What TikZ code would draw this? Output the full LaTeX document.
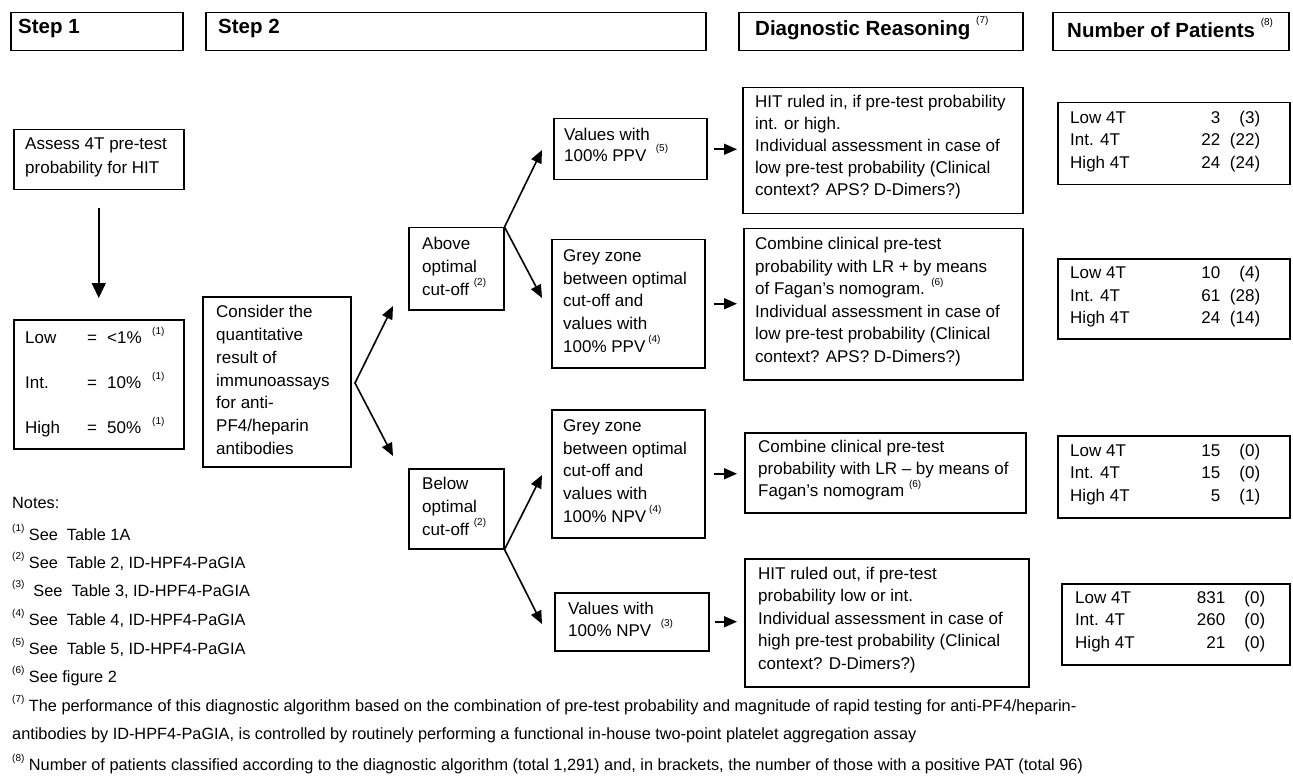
\documentclass[tikz,border=0pt]{standalone}
\usepackage{fontspec}
\setmainfont{Liberation Sans}
\usetikzlibrary{arrows.meta}
\newcommand{\fnm}[1]{\raisebox{0.55em}{\fontsize{10}{10}\selectfont(#1)}}
\newcommand{\prow}[3]{\makebox[150pt][l]{#1}\llap{#2}\makebox[40pt][r]{#3}}
\begin{document}
\begin{tikzpicture}[x=1pt,y=-1pt,
  box/.style={draw, line width=1.5pt, inner sep=0pt, anchor=north west},
  txt/.style={anchor=west, inner sep=0pt, align=left, font=\fontsize{17}{22.5}\selectfont},
  head/.style={anchor=west, inner sep=0pt, font=\bfseries\fontsize{20.5}{24}\selectfont},
  note/.style={anchor=west, inner sep=0pt, font=\fontsize{16.3}{20}\selectfont},
  arr/.style={line width=1.6pt, -{Triangle[length=13pt,width=11pt]}},
  fork/.style={line width=1.6pt, {Triangle[length=13pt,width=11pt]}-{Triangle[length=13pt,width=11pt]}}]
\useasboundingbox (0,0) rectangle (1293,778);

% headers
\node[box, minimum width=172pt, minimum height=38pt] (h1) at (10,12) {};
\node[box, minimum width=500pt, minimum height=38pt] (h2) at (205,12) {};
\node[box, minimum width=284pt, minimum height=38pt] (h3) at (738,12) {};
\node[box, minimum width=236pt, minimum height=38pt] (h4) at (1052,12) {};
\node[head] (h1t) at (18,28) {Step 1};
\node[head] (h2t) at (218,28) {Step 2};
\node[head] (h3t) at (755,28) {Diagnostic Reasoning \mdseries\fnm{7}};
\node[head] (h4t) at (1067,28) {Number of Patients \mdseries\fnm{8}};

% step 1
\node[box, minimum width=170pt, minimum height=60pt] (assess) at (13,129) {};
\node[txt, font=\fontsize{17}{24}\selectfont] (assesst) at (25,157) {Assess 4T pre-test\\probability for HIT};
\node[box, minimum width=170pt, minimum height=129pt] (low) at (13,319) {};
\node[txt, font=\fontsize{17}{45}\selectfont] (lowt) at (25,382)
  {\makebox[62pt][l]{Low}\makebox[20pt][l]{=}\makebox[45pt][l]{<1\%}\fnm{1}\\
   \makebox[62pt][l]{Int.}\makebox[20pt][l]{=}\makebox[45pt][l]{10\%}\fnm{1}\\
   \makebox[62pt][l]{High}\makebox[20pt][l]{=}\makebox[45pt][l]{50\%}\fnm{1}};
\draw[arr, -{Triangle[length=15pt,width=14pt]}] ([yshift=-18pt]assess.south) -- ([yshift=21pt]low.north);

% step 2
\node[box, minimum width=148pt, minimum height=170pt] (consider) at (202,296) {};
\node[txt, font=\fontsize{17}{22.7}\selectfont] (considert) at (216,380)
  {Consider the\\quantitative\\result of\\immunoassays\\for anti-\\PF4/heparin\\antibodies};
\node[box, minimum width=95pt, minimum height=82pt] (above) at (408,227) {};
\node[txt, font=\fontsize{17}{23}\selectfont] (abovet) at (422,266) {Above\\optimal\\cut-off \fnm{2}};
\node[box, minimum width=95pt, minimum height=80pt] (below) at (408,468) {};
\node[txt, font=\fontsize{17}{23}\selectfont] (belowt) at (422,506) {Below\\optimal\\cut-off \fnm{2}};

\node[box, minimum width=153pt, minimum height=61pt] (vppv) at (553,118) {};
\node[txt, font=\fontsize{17}{20.5}\selectfont] (vppvt) at (564,145) {Values with\\100\% PPV \ \fnm{5}};
\node[box, minimum width=153pt, minimum height=128pt] (gppv) at (551,239) {};
\node[txt, font=\fontsize{17}{22.7}\selectfont] (gppvt) at (563,301) {Grey zone\\between optimal\\cut-off and\\values with\\100\% PPV\,\fnm{4}};
\node[box, minimum width=153pt, minimum height=128pt] (gnpv) at (551,409) {};
\node[txt, font=\fontsize{17}{22.7}\selectfont] (gnpvt) at (563,471) {Grey zone\\between optimal\\cut-off and\\values with\\100\% NPV\,\fnm{4}};
\node[box, minimum width=154pt, minimum height=58pt] (vnpv) at (554,592) {};
\node[txt, font=\fontsize{17}{22}\selectfont] (vnpvt) at (568,619) {Values with\\100\% NPV \ \fnm{3}};

\coordinate (fc) at (355,383);
\coordinate (tA) at (393,306);
\coordinate (tB) at (393,456);
\draw[fork] (tA) -- (fc) -- (tB);
\coordinate (tC) at (542,150);
\coordinate (tD) at (542,298);
\draw[fork] (tC) -- (above.north east) -- (tD);
\coordinate (tE) at (542,475);
\coordinate (tF) at (542,624);
\draw[fork] (tE) -- (below.south east) -- (tF);

% diagnostic reasoning
\node[box, minimum width=280pt, minimum height=126pt] (hitin) at (742,87) {};
\node[txt, font=\fontsize{17}{22}\selectfont] (hitint) at (755,147)
  {HIT ruled in, if pre-test probability\\int. or high.\\Individual assessment in case of\\low pre-test probability (Clinical\\context? APS? D-Dimers?)};
\node[box, minimum width=279pt, minimum height=151pt] (comb1) at (743,228) {};
\node[txt, font=\fontsize{17}{22.6}\selectfont] (comb1t) at (755,301.5)
  {Combine clinical pre-test\\probability with LR + by means\\of Fagan’s nomogram. \fnm{6}\\Individual assessment in case of\\low pre-test probability (Clinical\\context? APS? D-Dimers?)};
\node[box, minimum width=281pt, minimum height=80pt] (comb2) at (744,432) {};
\node[txt, font=\fontsize{17}{22}\selectfont] (comb2t) at (758,470)
  {Combine clinical pre-test\\probability with LR – by means of\\Fagan’s nomogram \fnm{6}};
\node[box, minimum width=284pt, minimum height=128pt] (hitout) at (744,558) {};
\node[txt, font=\fontsize{17}{22.5}\selectfont] (hitoutt) at (758,620)
  {HIT ruled out, if pre-test\\probability low or int.\\Individual assessment in case of\\high pre-test probability (Clinical\\context? D-Dimers?)};

\draw[arr] ([xshift=6pt]vppv.east) -- ([xshift=-5pt]vppv.east -| hitin.west);
\draw[arr] ([xshift=8pt]gppv.east) -- ([xshift=-6pt]gppv.east -| comb1.west);
\draw[arr] ([xshift=8pt]gnpv.east) -- ([xshift=-7pt]gnpv.east -| comb2.west);
\draw[arr] ([xshift=5pt]vnpv.east) -- ([xshift=-7pt]vnpv.east -| hitout.west);

% number of patients
\node[box, minimum width=232pt, minimum height=82pt] (p1) at (1057,102) {};
\node[txt] (p1t) at (1070,141.5) {\prow{Low 4T}{3}{(3)}\\\prow{Int. 4T}{22}{(22)}\\\prow{High 4T}{24}{(24)}};
\node[box, minimum width=232pt, minimum height=80pt] (p2) at (1057,258) {};
\node[txt] (p2t) at (1070,297) {\prow{Low 4T}{10}{(4)}\\\prow{Int. 4T}{61}{(28)}\\\prow{High 4T}{24}{(14)}};
\node[box, minimum width=232pt, minimum height=82pt] (p3) at (1057,435) {};
\node[txt] (p3t) at (1070,474.5) {\prow{Low 4T}{15}{(0)}\\\prow{Int. 4T}{15}{(0)}\\\prow{High 4T}{5}{(1)}};
\node[box, minimum width=228pt, minimum height=81pt] (p4) at (1061,583) {};
\node[txt] (p4t) at (1075,621.5) {\prow{Low 4T}{831}{(0)}\\\prow{Int. 4T}{260}{(0)}\\\prow{High 4T}{21}{(0)}};

% notes
\node[note] (n0) at (12,503) {Notes:};
\node[note] (n1) at (12,532) {\fnm{1} See\ \ Table 1A};
\node[note] (n2) at (12,561) {\fnm{2} See\ \ Table 2, ID-HPF4-PaGIA};
\node[note] (n3) at (12,589) {\fnm{3}\ \ See\ \ Table 3, ID-HPF4-PaGIA};
\node[note] (n4) at (12,618) {\fnm{4} See\ \ Table 4, ID-HPF4-PaGIA};
\node[note] (n5) at (12,647) {\fnm{5} See\ \ Table 5, ID-HPF4-PaGIA};
\node[note] (n6) at (12,676) {\fnm{6} See figure 2};
\node[note] (n7) at (12,705) {\fnm{7} The performance of this diagnostic algorithm based on the combination of pre-test probability and magnitude of rapid testing for anti-PF4/heparin-};
\node[note] (n7b) at (12,735) {antibodies by ID-HPF4-PaGIA, is controlled by routinely performing a functional in-house two-point platelet aggregation assay};
\node[note] (n8) at (12,764) {\fnm{8} Number of patients classified according to the diagnostic algorithm (total 1,291) and, in brackets, the number of those with a positive PAT (total 96)};
\end{tikzpicture}
\end{document}
